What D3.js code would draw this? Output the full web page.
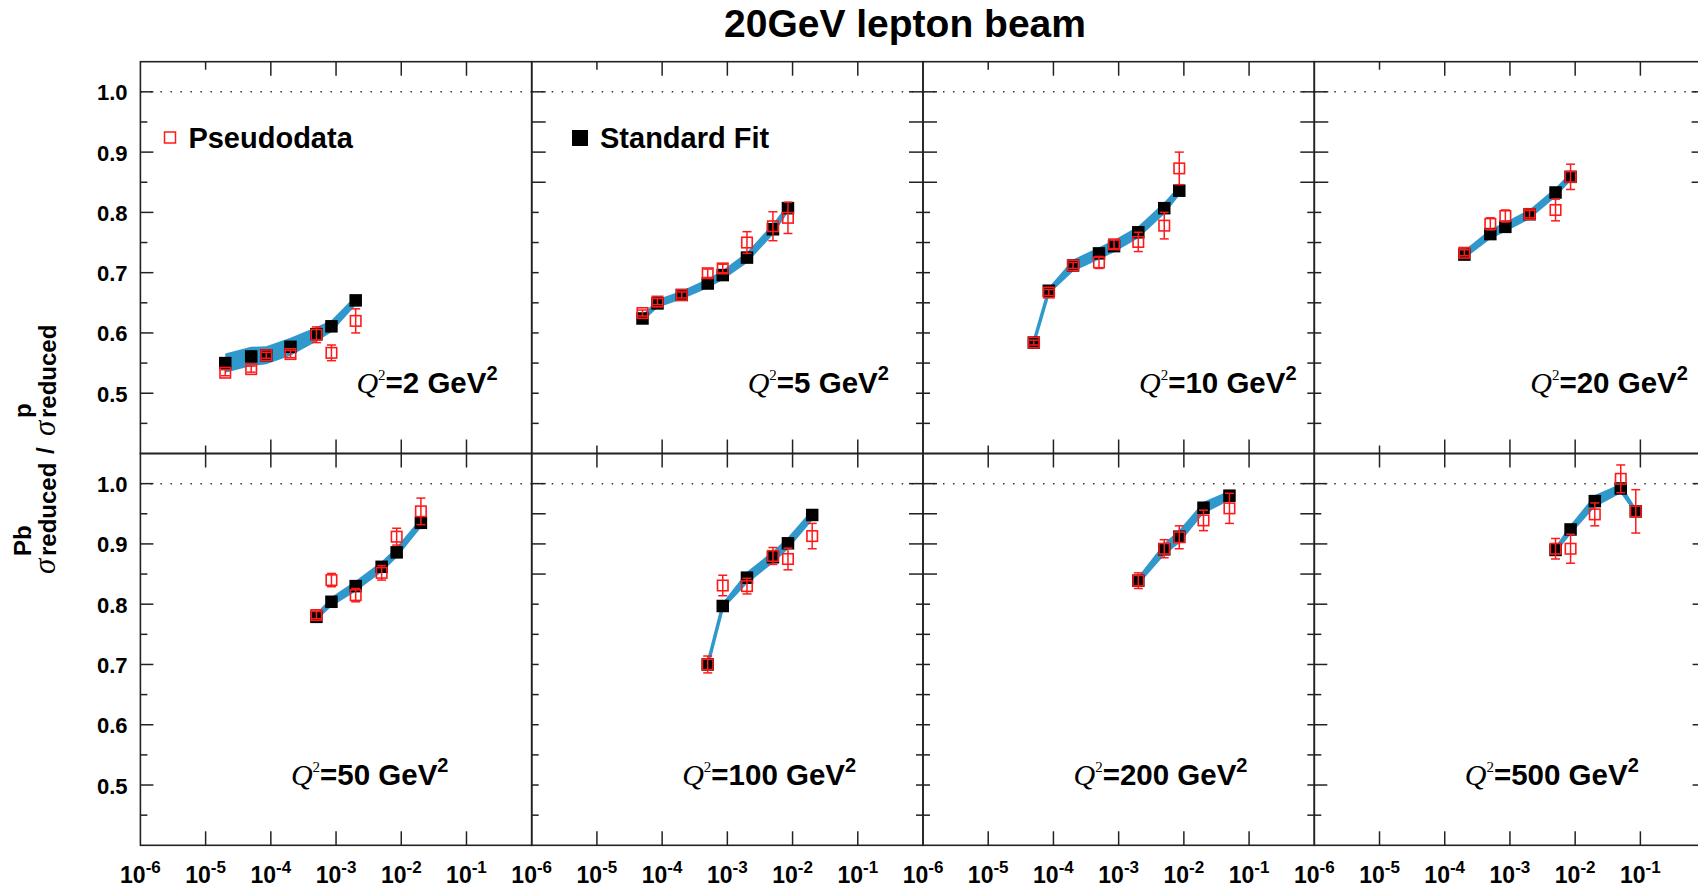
<!DOCTYPE html>
<html>
<head>
<meta charset="utf-8">
<script src="https://cdn.jsdelivr.net/npm/d3@7"></script>
<style>
  body { margin: 0; background: #fff; overflow: hidden; }
  svg { display: block; font-family: "Liberation Sans", Arial, Helvetica, sans-serif; }
</style>
</head>
<body>
<svg id="chart" width="1698" height="891"></svg>
<script>
// ---- data ----
const q2Values = [2, 5, 10, 20, 50, 100, 200, 500];

const xTickValues = [1e-6, 1e-5, 1e-4, 1e-3, 1e-2, 1e-1];
const xTickExponents = ['-6', '-5', '-4', '-3', '-2', '-1'];
const yTickValues = [0.5, 0.6, 0.7, 0.8, 0.9, 1.0];
const yTickLabels = ['0.5', '0.6', '0.7', '0.8', '0.9', '1.0'];
const yAllTicks = [0.45, 0.5, 0.55, 0.6, 0.65, 0.7, 0.75, 0.8, 0.85, 0.9, 0.95, 1.0];

// Q2 = 2
const x_2 = [2e-5, 5e-5, 8.5e-5, 2e-4, 5e-4, 8.5e-4, 2e-3];
const fit_2 = [0.550, 0.561, 0.563, 0.577, 0.598, 0.611, 0.654];
const fitErr_2 = [0.016, 0.016, 0.015, 0.015, 0.012, 0.010, 0.008];
const data_2 = [0.534, 0.540, 0.563, 0.565, 0.597, 0.567, 0.620];
const dataErr_2 = [0.005, 0.005, 0.005, 0.006, 0.013, 0.013, 0.020];

// Q2 = 5
const x_5 = [5e-5, 8.5e-5, 2e-4, 5e-4, 8.5e-4, 2e-3, 5e-3, 8.5e-3];
const fit_5 = [0.624, 0.649, 0.663, 0.682, 0.696, 0.725, 0.772, 0.807];
const fitErr_5 = [0.006, 0.007, 0.007, 0.008, 0.008, 0.009, 0.009, 0.007];
const data_5 = [0.633, 0.652, 0.663, 0.699, 0.707, 0.750, 0.777, 0.791];
const dataErr_5 = [0.005, 0.005, 0.005, 0.007, 0.007, 0.018, 0.024, 0.026];

// Q2 = 10
const x_10 = [5e-5, 8.5e-5, 2e-4, 5e-4, 8.5e-4, 2e-3, 5e-3, 8.5e-3];
const fit_10 = [0.584, 0.670, 0.712, 0.732, 0.744, 0.767, 0.807, 0.836];
const fitErr_10 = [0.002, 0.006, 0.010, 0.010, 0.010, 0.010, 0.010, 0.008];
const data_10 = [0.584, 0.667, 0.712, 0.717, 0.747, 0.751, 0.778, 0.873];
const dataErr_10 = [0.004, 0.005, 0.005, 0.010, 0.007, 0.016, 0.022, 0.027];

// Q2 = 20
const x_20 = [2e-4, 5e-4, 8.5e-4, 2e-3, 5e-3, 8.5e-3];
const fit_20 = [0.730, 0.764, 0.776, 0.797, 0.833, 0.859];
const fitErr_20 = [0.007, 0.008, 0.008, 0.008, 0.008, 0.007];
const data_20 = [0.733, 0.781, 0.794, 0.797, 0.804, 0.859];
const dataErr_20 = [0.005, 0.010, 0.010, 0.006, 0.018, 0.021];

// Q2 = 50
const x_50 = [5e-4, 8.5e-4, 2e-3, 5e-3, 8.5e-3, 2e-2];
const fit_50 = [0.779, 0.804, 0.830, 0.862, 0.886, 0.935];
const fitErr_50 = [0.006, 0.008, 0.009, 0.009, 0.009, 0.008];
const data_50 = [0.782, 0.840, 0.815, 0.852, 0.912, 0.954];
const dataErr_50 = [0.006, 0.011, 0.011, 0.012, 0.014, 0.022];

// Q2 = 100
const x_100 = [5e-4, 8.5e-4, 2e-3, 5e-3, 8.5e-3, 2e-2];
const fit_100 = [0.700, 0.797, 0.844, 0.878, 0.901, 0.948];
const fitErr_100 = [0.002, 0.006, 0.010, 0.010, 0.010, 0.009];
const data_100 = [0.700, 0.831, 0.830, 0.880, 0.875, 0.913];
const dataErr_100 = [0.014, 0.017, 0.013, 0.014, 0.018, 0.021];

// Q2 = 200
const x_200 = [2e-3, 5e-3, 8.5e-3, 2e-2, 5e-2];
const fit_200 = [0.839, 0.891, 0.912, 0.960, 0.980];
const fitErr_200 = [0.007, 0.010, 0.011, 0.010, 0.008];
const data_200 = [0.839, 0.892, 0.911, 0.939, 0.959];
const dataErr_200 = [0.013, 0.015, 0.019, 0.017, 0.025];

// Q2 = 500
const x_500 = [5e-3, 8.5e-3, 2e-2, 5e-2, 8.5e-2];
const fit_500 = [0.890, 0.924, 0.971, 0.992, 0.954];
const fitErr_500 = [0.006, 0.008, 0.010, 0.008, 0.005];
const data_500 = [0.892, 0.892, 0.949, 1.008, 0.954];
const dataErr_500 = [0.017, 0.024, 0.019, 0.023, 0.036];

const panels = [
    { q2: q2Values[0], x: x_2, fit: fit_2, fitErr: fitErr_2, data: data_2, dataErr: dataErr_2 },
    { q2: q2Values[1], x: x_5, fit: fit_5, fitErr: fitErr_5, data: data_5, dataErr: dataErr_5 },
    { q2: q2Values[2], x: x_10, fit: fit_10, fitErr: fitErr_10, data: data_10, dataErr: dataErr_10 },
    { q2: q2Values[3], x: x_20, fit: fit_20, fitErr: fitErr_20, data: data_20, dataErr: dataErr_20 },
    { q2: q2Values[4], x: x_50, fit: fit_50, fitErr: fitErr_50, data: data_50, dataErr: dataErr_50 },
    { q2: q2Values[5], x: x_100, fit: fit_100, fitErr: fitErr_100, data: data_100, dataErr: dataErr_100 },
    { q2: q2Values[6], x: x_200, fit: fit_200, fitErr: fitErr_200, data: data_200, dataErr: dataErr_200 },
    { q2: q2Values[7], x: x_500, fit: fit_500, fitErr: fitErr_500, data: data_500, dataErr: dataErr_500 }
];

// ---- layout ----
const panelW = 391.3;
const panelH = 391.8;
const left0 = 140.4;
const top0 = 61.7;
const BAND = '#3198cc';
const RED = '#ff1a1a';
const AXIS = '#222';
const SERIF = '"Liberation Serif", "DejaVu Serif", serif';

// panels whose y ticks alternate major/minor; the others have long ticks at the top only
const standardTickPanels = [0, 4, 7];
const noRightTickPanels = [0, 4];

const svg = d3.select('#chart');

const x = d3.scaleLog().domain([1e-6, 1]).range([0, panelW]);
const y = d3.scaleLinear().domain([0.4, 1.05]).range([panelH, 0]);

// Title
svg.append('text')
    .attr('x', 724).attr('y', 37)
    .attr('font-size', 39).attr('font-weight', 'bold')
    .text('20GeV lepton beam');

panels.forEach((p, i) => {
    const col = i % 4, row = Math.floor(i / 4);
    const g = svg.append('g')
        .attr('transform', `translate(${left0 + col * panelW},${top0 + row * panelH})`);

    // dotted line at unity
    g.append('line')
        .attr('x1', 0).attr('x2', panelW)
        .attr('y1', y(1)).attr('y2', y(1))
        .attr('stroke', '#333').attr('stroke-width', 1.5)
        .attr('stroke-dasharray', '1.5,8.5');

    // y ticks
    const std = standardTickPanels.includes(i);
    const tickLen = v => {
        if (std) return Math.round(v * 100) % 10 === 0 ? 13 : 7;
        return v >= 0.849 ? 14 : 7;
    };
    yAllTicks.forEach(v => {
        g.append('line')
            .attr('x1', 0).attr('x2', tickLen(v))
            .attr('y1', y(v)).attr('y2', y(v))
            .attr('stroke', AXIS).attr('stroke-width', 1.5);
        if (!noRightTickPanels.includes(i)) {
            g.append('line')
                .attr('x1', panelW - tickLen(v)).attr('x2', panelW)
                .attr('y1', y(v)).attr('y2', y(v))
                .attr('stroke', AXIS).attr('stroke-width', 1.5);
        }
    });

    // x ticks (top and bottom)
    xTickValues.slice(1).forEach(v => {
        const len = (row === 0 && v === 1e-5) ? 8 : 14;
        g.append('line')
            .attr('x1', x(v)).attr('x2', x(v))
            .attr('y1', panelH).attr('y2', panelH - len)
            .attr('stroke', AXIS).attr('stroke-width', 1.5);
        g.append('line')
            .attr('x1', x(v)).attr('x2', x(v))
            .attr('y1', 0).attr('y2', len)
            .attr('stroke', AXIS).attr('stroke-width', 1.5);
    });

    // frame
    g.append('rect')
        .attr('width', panelW).attr('height', panelH)
        .attr('fill', 'none').attr('stroke', AXIS).attr('stroke-width', 1.6);

    // y tick labels on first column
    if (col === 0) {
        yTickValues.forEach((v, k) => {
            g.append('text')
                .attr('x', -12.8).attr('y', y(v) + 8.5)
                .attr('text-anchor', 'end')
                .attr('font-size', 22).attr('font-weight', 'bold')
                .text(yTickLabels[k]);
        });
    }

    // x tick labels on bottom row
    if (row === 1) {
        xTickValues.forEach((v, k) => {
            const t = g.append('text')
                .attr('x', x(v)).attr('y', panelH + 37.7)
                .attr('text-anchor', 'middle')
                .attr('font-weight', 'bold');
            t.append('tspan').attr('font-size', 23).text('10');
            t.append('tspan').attr('font-size', 17).attr('dy', -10).text(xTickExponents[k]);
        });
    }

    // fit band
    const pts = p.x.map((xv, k) => ({ x: xv, f: p.fit[k], e: p.fitErr[k], d: p.data[k], de: p.dataErr[k] }));
    g.append('path').datum(pts)
        .attr('d', d3.area()
            .x(d => x(d.x))
            .y0(d => y(d.f - d.e))
            .y1(d => y(d.f + d.e)))
        .attr('fill', BAND);
    g.append('path').datum(pts)
        .attr('d', d3.line()
            .x(d => x(d.x))
            .y(d => y(d.f)))
        .attr('fill', 'none').attr('stroke', BAND)
        .attr('stroke-width', 3.5).attr('stroke-linejoin', 'round');

    // standard fit markers
    const ms = 12.5;
    g.selectAll('rect.fit').data(pts).enter().append('rect')
        .attr('class', 'fit')
        .attr('x', d => x(d.x) - ms / 2).attr('y', d => y(d.f) - ms / 2)
        .attr('width', ms).attr('height', ms)
        .attr('fill', '#000');

    // pseudodata error bars
    const cap = 4.5;
    pts.forEach(d => {
        const cx = x(d.x);
        g.append('line')
            .attr('x1', cx).attr('x2', cx)
            .attr('y1', y(d.d - d.de)).attr('y2', y(d.d + d.de))
            .attr('stroke', RED).attr('stroke-width', 1.5);
        [d.d - d.de, d.d + d.de].forEach(v => {
            g.append('line')
                .attr('x1', cx - cap).attr('x2', cx + cap)
                .attr('y1', y(v)).attr('y2', y(v))
                .attr('stroke', RED).attr('stroke-width', 1.5);
        });
    });

    // pseudodata markers
    const rs = 10.5;
    g.selectAll('rect.pd').data(pts).enter().append('rect')
        .attr('class', 'pd')
        .attr('x', d => x(d.x) - rs / 2).attr('y', d => y(d.d) - rs / 2)
        .attr('width', rs).attr('height', rs)
        .attr('fill', 'none').attr('stroke', RED).attr('stroke-width', 1.6);

    // Q2 label
    const lx = row === 0 ? 216 : 150.5;
    const lab = g.append('text')
        .attr('x', lx).attr('y', y(0.5));
    lab.append('tspan')
        .attr('font-family', SERIF)
        .attr('font-style', 'italic').attr('font-size', 30).text('Q');
    lab.append('tspan')
        .attr('font-family', SERIF)
        .attr('font-size', 15).attr('dy', -13).text('2');
    lab.append('tspan')
        .attr('font-weight', 'bold').attr('font-size', 29.5).attr('dy', 13)
        .text(`=${p.q2} GeV`);
    lab.append('tspan')
        .attr('font-weight', 'bold').attr('font-size', 20).attr('dy', -13).text('2');
});

// legend
const lg1 = svg.append('g').attr('transform', `translate(${left0},${top0})`);
lg1.append('rect')
    .attr('x', 29.6 - 5.5).attr('y', 75.8 - 5.5).attr('width', 11).attr('height', 11)
    .attr('fill', 'none').attr('stroke', RED).attr('stroke-width', 1.5);
lg1.append('text')
    .attr('x', 48).attr('y', 86.3)
    .attr('font-size', 29).attr('font-weight', 'bold')
    .text('Pseudodata');

const lg2 = svg.append('g').attr('transform', `translate(${left0 + panelW},${top0})`);
lg2.append('rect')
    .attr('x', 48.3 - 8).attr('y', 76.3 - 8).attr('width', 16).attr('height', 16)
    .attr('fill', '#000');
lg2.append('text')
    .attr('x', 68.3).attr('y', 86.3)
    .attr('font-size', 29).attr('font-weight', 'bold')
    .text('Standard Fit');

// y axis title (rotated; local x runs up the page)
const yt = svg.append('g').attr('transform', 'rotate(-90)');
yt.append('text').attr('x', -574).attr('y', 55)
    .attr('font-family', SERIF).attr('font-style', 'italic').attr('font-size', 31).text('σ');
yt.append('text').attr('x', -556).attr('y', 56)
    .attr('font-weight', 'bold').attr('font-size', 24).text('reduced');
yt.append('text').attr('x', -556).attr('y', 31)
    .attr('font-weight', 'bold').attr('font-size', 24).text('Pb');
yt.append('text').attr('x', -454).attr('y', 54)
    .attr('font-weight', 'bold').attr('font-size', 24).text('/');
yt.append('text').attr('x', -436).attr('y', 55)
    .attr('font-family', SERIF).attr('font-style', 'italic').attr('font-size', 31).text('σ');
yt.append('text').attr('x', -418).attr('y', 56)
    .attr('font-weight', 'bold').attr('font-size', 24).text('reduced');
yt.append('text').attr('x', -418).attr('y', 31)
    .attr('font-weight', 'bold').attr('font-size', 24).text('p');
</script>
</body>
</html>
